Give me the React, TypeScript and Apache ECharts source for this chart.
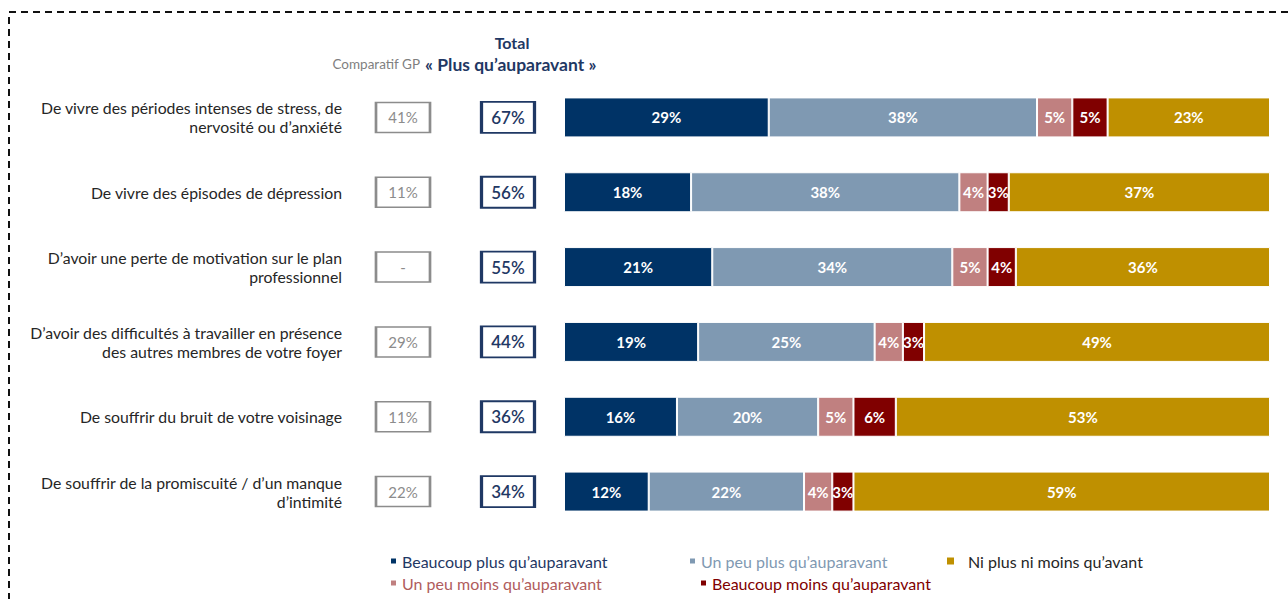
import React, { useEffect, useRef } from "react";
import * as echarts from "echarts";

const categories = [
  "De vivre des périodes intenses de stress, de\nnervosité ou d’anxiété",
  "De vivre des épisodes de dépression",
  "D’avoir une perte de motivation sur le plan\nprofessionnel",
  "D’avoir des difficultés à travailler en présence\ndes autres membres de votre foyer",
  "De souffrir du bruit de votre voisinage",
  "De souffrir de la promiscuité / d’un manque\nd’intimité",
];

const seriesNames = [
  "Beaucoup plus qu’auparavant",
  "Un peu plus qu’auparavant",
  "Un peu moins qu’auparavant",
  "Beaucoup moins qu’auparavant",
  "Ni plus ni moins qu’avant",
];

const beaucoupPlus = [29, 18, 21, 19, 16, 12];
const unPeuPlus = [38, 38, 34, 25, 20, 22];
const unPeuMoins = [5, 4, 5, 4, 5, 4];
const beaucoupMoins = [5, 3, 4, 3, 6, 3];
const niPlusNiMoins = [23, 37, 36, 49, 53, 59];

const gpValues: (number | null)[] = [41, 11, null, 29, 11, 22];
const totalValues = [67, 56, 55, 44, 36, 34];
const boxColumns = ["Comparatif GP", "Total"];

const colors = ["#003366", "#7F99B2", "#C08080", "#800000", "#BF9000"];
const legendTextColors = ["#1F3864", "#7F99B2", "#B05C5C", "#800000", "#262626"];

const FONT = "Lato, 'Open Sans', sans-serif";

export default function App() {
  const ref = useRef<HTMLDivElement>(null);

  useEffect(() => {
    if (!ref.current) return;
    const chart = echarts.init(ref.current, undefined, { renderer: "svg" });
    const values = [beaucoupPlus, unPeuPlus, unPeuMoins, beaucoupMoins, niPlusNiMoins];

    const barSeries = values.map((vals, i) => ({
      type: "bar",
      name: seriesNames[i],
      stack: "total",
      xAxisIndex: 0,
      yAxisIndex: 0,
      barWidth: 40,
      data: vals,
      itemStyle: { color: colors[i], borderColor: "#ffffff", borderWidth: 1 },
      label: {
        show: true,
        position: "inside",
        formatter: (p: any) => p.value + "%",
        color: "#ffffff",
        fontWeight: "bold",
        fontSize: 15,
        fontFamily: FONT,
      },
    }));

    const legendPos = [
      { left: 384, top: 548 },
      { left: 683, top: 548 },
      { left: 384, top: 570 },
      { left: 694, top: 570 },
      { left: 940, top: 548 },
    ];

    const legends = seriesNames.map((name, i) => ({
      left: legendPos[i].left,
      top: legendPos[i].top,
      icon: "rect",
      itemWidth: i === 4 ? 9 : 7,
      itemHeight: i === 4 ? 9 : 7,
      itemGap: 5,
      selectedMode: false,
      data: [{ name, textStyle: { color: legendTextColors[i] } }],
      textStyle: { fontSize: 16, fontFamily: FONT, padding: [0, 0, 0, i === 4 ? 8 : 0] },
    }));

    chart.setOption({
      animation: false,
      backgroundColor: "#ffffff",
      textStyle: { fontFamily: FONT },
      legend: legends,
      grid: [
        { left: 564, width: 706, top: 80, height: 449 },
        { left: 350.5, width: 210, top: 80, height: 449 },
      ],
      xAxis: [
        { type: "value", gridIndex: 0, min: 0, max: 100, show: false },
        { type: "category", gridIndex: 1, data: boxColumns, show: false },
      ],
      yAxis: [
        {
          type: "category",
          gridIndex: 0,
          inverse: true,
          data: categories,
          axisLine: { show: false },
          axisTick: { show: false },
          axisLabel: {
            margin: 222,
            fontSize: 15.8,
            lineHeight: 19,
            color: "#262626",
            fontFamily: FONT,
            align: "right",
          },
        },
        { type: "category", gridIndex: 1, inverse: true, data: categories, show: false },
      ],
      series: [
        ...barSeries,
        {
          type: "scatter",
          xAxisIndex: 1,
          yAxisIndex: 1,
          symbol: "rect",
          symbolSize: [54, 30],
          data: gpValues.map((_, i) => [0, i]),
          itemStyle: { color: "#ffffff", borderColor: "#8C8C8C", borderWidth: 2, opacity: 1 },
          label: {
            show: true,
            position: "inside",
            formatter: (p: any) => {
              const v = gpValues[p.dataIndex];
              return v === null ? "-" : v + "%";
            },
            color: "#8C8C8C",
            fontSize: 15,
            fontFamily: FONT,
          },
          silent: true,
        },
        {
          type: "scatter",
          xAxisIndex: 1,
          yAxisIndex: 1,
          symbol: "rect",
          symbolSize: [53, 31],
          data: totalValues.map((_, i) => [1, i]),
          itemStyle: { color: "#ffffff", borderColor: "#1F3864", borderWidth: 2.5, opacity: 1 },
          label: {
            show: true,
            position: "inside",
            formatter: (p: any) => totalValues[p.dataIndex] + "%",
            color: "#1F3864",
            fontSize: 17,
            fontWeight: 600,
            fontFamily: FONT,
          },
          silent: true,
        },
      ],
      graphic: [
        {
          type: "rect",
          shape: { x: 9, y: 12, width: 1300, height: 620 },
          style: { fill: "none", stroke: "#111111", lineWidth: 2, lineDash: [7, 5] },
          silent: true,
        },
        {
          type: "text",
          x: 512,
          y: 42,
          style: {
            text: "Total",
            fill: "#1F3864",
            font: `bold 16px ${FONT}`,
            textAlign: "center",
            textVerticalAlign: "middle",
          },
        },
        {
          type: "text",
          x: 420,
          y: 64,
          style: {
            text: "Comparatif GP",
            fill: "#7F7F7F",
            font: `13.5px ${FONT}`,
            textAlign: "right",
            textVerticalAlign: "middle",
          },
        },
        {
          type: "text",
          x: 425,
          y: 64,
          style: {
            text: "« Plus qu’auparavant »",
            fill: "#1F3864",
            font: `bold 17.5px ${FONT}`,
            textAlign: "left",
            textVerticalAlign: "middle",
          },
        },
      ],
    });

    return () => chart.dispose();
  }, []);

  return (
    <div
      ref={ref}
      style={{ position: "fixed", left: 0, top: 0, width: 1288, height: 599, background: "#fff" }}
    />
  );
}
